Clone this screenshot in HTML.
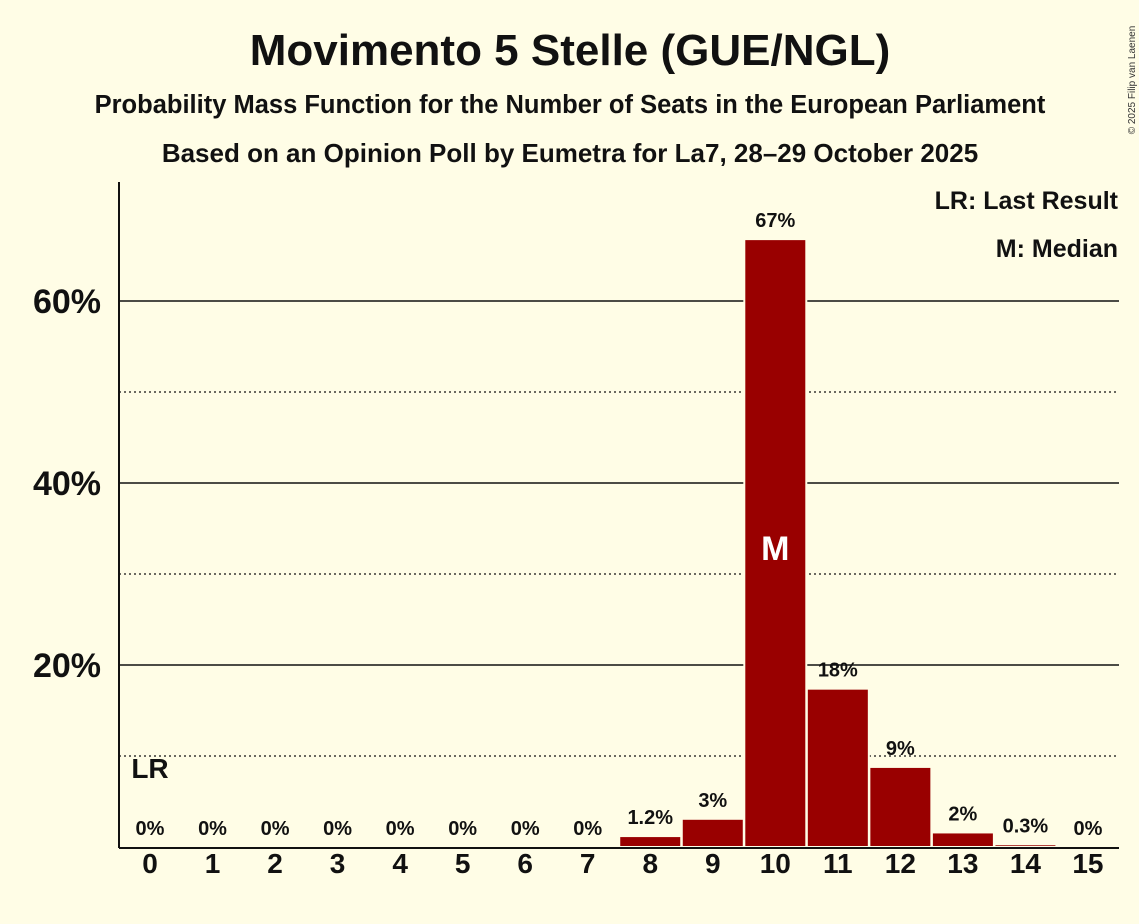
<!DOCTYPE html>
<html><head><meta charset="utf-8"><style>
body{margin:0;background:#fffde6;}
svg{display:block;font-family:"Liberation Sans",sans-serif;}
</style></head><body>
<svg id="c" width="1139" height="924" xmlns="http://www.w3.org/2000/svg">
<rect width="1139" height="924" fill="#fffde6"/>
<text x="570" y="65" text-anchor="middle" font-size="44" font-weight="bold" fill="#111">Movimento 5 Stelle (GUE/NGL)</text>
<text x="570" y="113" text-anchor="middle" font-size="25.5" font-weight="bold" fill="#111">Probability Mass Function for the Number of Seats in the European Parliament</text>
<text x="570" y="162" text-anchor="middle" font-size="26" font-weight="bold" fill="#111">Based on an Opinion Poll by Eumetra for La7, 28–29 October 2025</text>
<text transform="translate(1135,80) rotate(-90)" text-anchor="middle" font-size="10" fill="#333">© 2025 Filip van Laenen</text>
<g id="grid"></g>
<g id="bars"></g>
<g id="labels"></g>
<line x1="119" y1="182" x2="119" y2="848" stroke="#111" stroke-width="2"/>
<line x1="119" y1="848" x2="1119" y2="848" stroke="#111" stroke-width="2"/>
<text x="1118" y="209" text-anchor="end" font-size="25" font-weight="bold" fill="#111">LR: Last Result</text>
<text x="1118" y="257" text-anchor="end" font-size="25" font-weight="bold" fill="#111">M: Median</text>
</svg>
<script>
const seats=[0,1,2,3,4,5,6,7,8,9,10,11,12,13,14,15];
const probs=[0,0,0,0,0,0,0,0,1.2,3.1,66.8,17.4,8.8,1.6,0.3,0];
const valueLabels=["0%","0%","0%","0%","0%","0%","0%","0%","1.2%","3%","67%","18%","9%","2%","0.3%","0%"];
const solidTicks=[20,40,60];
const dottedTicks=[10,30,50];
const tickLabels=["20%","40%","60%"];
const medianSeat=10, lastResultSeat=0;
const NS="http://www.w3.org/2000/svg";
const y=v=>847-v*9.1;
const x=s=>150+s*62.53;
function mk(t,a,p){const e=document.createElementNS(NS,t);for(const k in a)e.setAttribute(k,a[k]);p.appendChild(e);return e;}
const grid=document.getElementById('grid'),bars=document.getElementById('bars'),labels=document.getElementById('labels');
dottedTicks.forEach(v=>{const l=mk('line',{x1:119,x2:1119,y1:y(v),y2:y(v),stroke:'#111','stroke-width':1.2,'stroke-dasharray':'2,3'},grid);

});
solidTicks.forEach((v,i)=>{const l=mk('line',{x1:119,x2:1119,y1:y(v),y2:y(v),stroke:'#111','stroke-width':1.6},grid);


const t=mk('text',{x:101,y:y(v)+12,'text-anchor':'end','font-size':34,'font-weight':'bold',fill:'#111'},labels);t.textContent=tickLabels[i];

});
seats.forEach((s,i)=>{
 if(probs[i]>0){const r=mk('rect',{x:x(s)-31,y:y(probs[i]),width:62,height:847-y(probs[i]),fill:'#990000',stroke:'#fffde6','stroke-width':2},bars);
 
 }
 const vl=mk('text',{x:x(s),y:(probs[i]>0?y(probs[i]):847)-12,'text-anchor':'middle','font-size':20,'font-weight':'bold',fill:'#111'},labels);vl.textContent=valueLabels[i];
 
 
 const tl=mk('text',{x:x(s),y:873,'text-anchor':'middle','font-size':28,'font-weight':'bold',fill:'#111'},labels);tl.textContent=s;
 
 
});
const m=mk('text',{x:x(medianSeat),y:y(probs[10]/2)+17,'text-anchor':'middle','font-size':34,'font-weight':'bold',fill:'#fff'},labels);m.textContent='M';


const lr=mk('text',{x:x(lastResultSeat),y:y(10)+22,'text-anchor':'middle','font-size':28,'font-weight':'bold',fill:'#111'},labels);lr.textContent='LR';


</script>
</body></html>
